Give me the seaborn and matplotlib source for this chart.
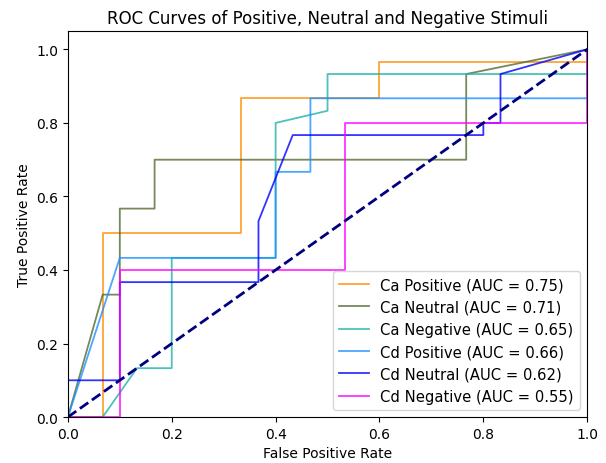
import numpy as np
import matplotlib
matplotlib.use("Agg")
import matplotlib.pyplot as plt
import seaborn as sns
import pandas as pd

# ROC points (FPR steps of 1/15, TPR steps of 1/30)
ca_pos_fpr = [0.0, 0.067, 0.067, 0.333, 0.333, 0.6, 0.6, 1.0, 1.0]
ca_pos_tpr = [0.0, 0.0, 0.5, 0.5, 0.867, 0.867, 0.967, 0.967, 1.0]

ca_neu_fpr = [0.0, 0.067, 0.1, 0.1, 0.167, 0.167, 0.767, 0.767, 1.0]
ca_neu_tpr = [0.0, 0.333, 0.333, 0.567, 0.567, 0.7, 0.7, 0.933, 1.0]

ca_neg_fpr = [0.0, 0.067, 0.133, 0.2, 0.2, 0.4, 0.4, 0.5, 0.5, 1.0, 1.0]
ca_neg_tpr = [0.0, 0.0, 0.133, 0.133, 0.433, 0.433, 0.8, 0.833, 0.933, 0.933, 1.0]

cd_pos_fpr = [0.0, 0.1, 0.4, 0.4, 0.467, 0.467, 1.0, 1.0]
cd_pos_tpr = [0.0, 0.433, 0.433, 0.667, 0.667, 0.867, 0.867, 1.0]

cd_neu_fpr = [0.0, 0.0, 0.1, 0.1, 0.367, 0.367, 0.433, 0.8, 0.8, 0.833, 0.833, 1.0]
cd_neu_tpr = [0.0, 0.1, 0.1, 0.367, 0.367, 0.533, 0.767, 0.767, 0.8, 0.8, 0.933, 1.0]

cd_neg_fpr = [0.0, 0.1, 0.1, 0.533, 0.533, 1.0, 1.0]
cd_neg_tpr = [0.0, 0.0, 0.4, 0.4, 0.8, 0.8, 1.0]

labels = ["Ca Positive", "Ca Neutral", "Ca Negative",
          "Cd Positive", "Cd Neutral", "Cd Negative"]
auc_values = [0.75, 0.71, 0.65, 0.66, 0.62, 0.55]
colors = ["darkorange", "darkolivegreen", "lightseagreen",
          "dodgerblue", "blue", "magenta"]

curves = [(ca_pos_fpr, ca_pos_tpr), (ca_neu_fpr, ca_neu_tpr), (ca_neg_fpr, ca_neg_tpr),
          (cd_pos_fpr, cd_pos_tpr), (cd_neu_fpr, cd_neu_tpr), (cd_neg_fpr, cd_neg_tpr)]

# build one long table for seaborn
rows = []
for (fpr, tpr), name, auc in zip(curves, labels, auc_values):
    lab = f"{name} (AUC = {auc:.2f})"
    for x, y in zip(fpr, tpr):
        rows.append({"fpr": x, "tpr": y, "curve": lab})
df = pd.DataFrame(rows)
hue_order = [f"{n} (AUC = {a:.2f})" for n, a in zip(labels, auc_values)]

fig = plt.figure(figsize=(6.06, 4.64), dpi=100)
ax = fig.add_axes([0.112, 0.099, 0.857, 0.832])

sns.lineplot(data=df, x="fpr", y="tpr", hue="curve", hue_order=hue_order,
             palette=colors, sort=False, estimator=None, units="curve",
             lw=1.3, alpha=0.8, ax=ax)

# chance line
ax.plot([0, 1], [0, 1], color="navy", lw=2, linestyle="--")

ax.set_xlim(0.0, 1.0)
ax.set_ylim(0.0, 1.05)
ax.set_xlabel("False Positive Rate")
ax.set_ylabel("True Positive Rate")
ax.set_title("ROC Curves of Positive, Neutral and Negative Stimuli")
ax.legend(loc="lower right", fontsize=10.6)

fig.savefig("out.png", dpi=100)
